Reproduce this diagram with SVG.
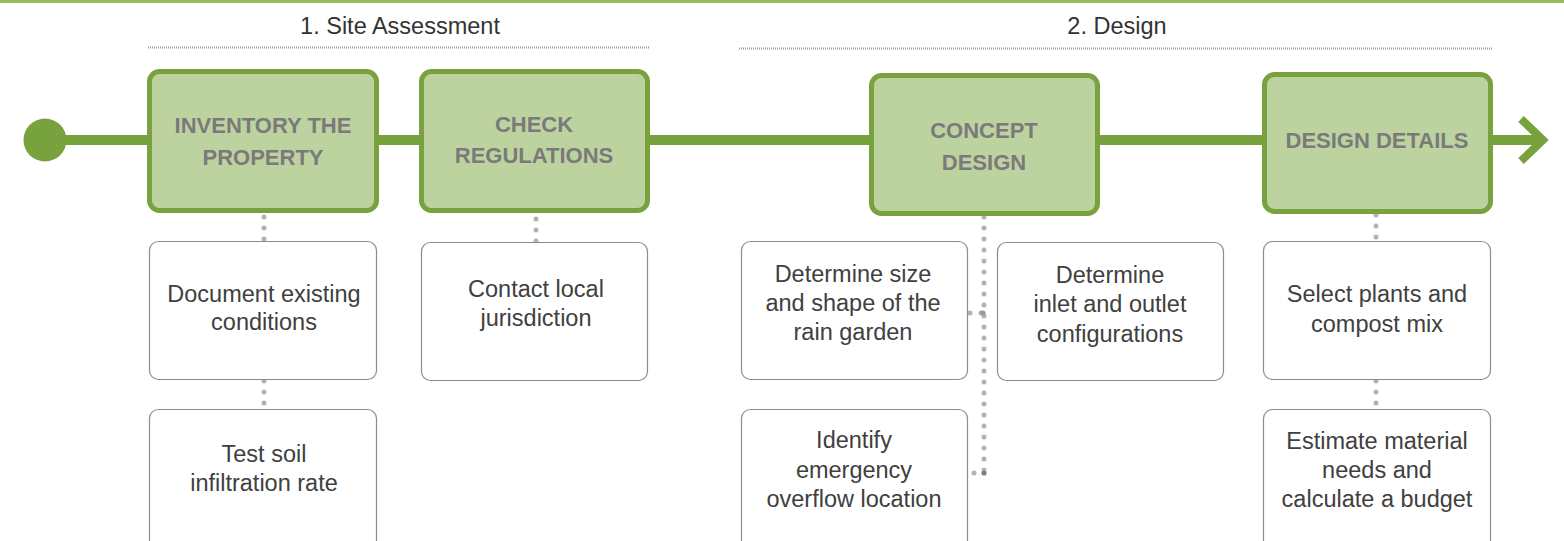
<svg xmlns="http://www.w3.org/2000/svg" width="1564" height="541" viewBox="0 0 1564 541">
  <style>
    .phase { font-family: "Liberation Sans", Arial, sans-serif; font-size: 23.5px; fill: #333333; text-anchor: middle; }
    .rule { stroke: #9a9a9a; stroke-width: 2; stroke-dasharray: 1 1; fill: none; }
    .step rect { fill: #BCD3A0; stroke: #78A23E; stroke-width: 5; }
    .step text { font-family: "Liberation Sans", Arial, sans-serif; font-weight: bold; font-size: 22px; fill: #7A7A7A; text-anchor: middle; }
    .task rect { fill: #ffffff; stroke: #8c8c8c; stroke-width: 1.2; }
    .task text { font-family: "Liberation Sans", Arial, sans-serif; font-size: 23.5px; fill: #404040; text-anchor: middle; }
    .dots { stroke: #b3b3b3; stroke-width: 5; stroke-linecap: round; stroke-dasharray: 0 11; fill: none; }
  </style>

  <!-- top border -->
  <rect x="0" y="0" width="1564" height="3" fill="#9BBB59"/>

  <!-- phase headings -->
  <g id="phase-site">
    <text class="phase" x="400" y="34">1. Site Assessment</text>
    <line class="rule" x1="148" y1="47.5" x2="650" y2="47.5"/>
  </g>
  <g id="phase-design">
    <text class="phase" x="1117" y="34">2. Design</text>
    <line class="rule" x1="739" y1="48.5" x2="1492" y2="48.5"/>
  </g>

  <!-- connectors -->
  <g id="connectors">
    <line x1="45" y1="140" x2="1541" y2="140" stroke="#78A23E" stroke-width="10"/>
    <circle cx="45" cy="140" r="21.5" fill="#78A23E"/>
    <polyline points="1521,119 1543,140 1521,161" fill="none" stroke="#78A23E" stroke-width="8"/>

    <line class="dots" x1="264" y1="217" x2="264" y2="240"/>
    <line class="dots" x1="264" y1="381" x2="264" y2="404"/>
    <line class="dots" x1="536" y1="219" x2="536" y2="242"/>
    <line class="dots" x1="984" y1="217" x2="984" y2="474"/>
    <line class="dots" x1="970" y1="313" x2="992" y2="313" stroke-dasharray="0 7.3"/>
    <line class="dots" x1="974" y1="473" x2="984" y2="473" stroke-dasharray="0 10"/>
    <circle cx="984" cy="473" r="2.6" fill="#7f7f7f"/>
    <circle cx="983" cy="313" r="2.6" fill="#9a9a9a"/>
    <line class="dots" x1="1376" y1="215" x2="1376" y2="238"/>
    <line class="dots" x1="1376" y1="381" x2="1376" y2="404"/>
  </g>

  <!-- main steps -->
  <g id="inventory" class="step">
    <rect x="149.5" y="71.5" width="227" height="139" rx="10"/>
    <text x="263" y="133">INVENTORY THE</text>
    <text x="263" y="165">PROPERTY</text>
  </g>
  <g id="regulations" class="step">
    <rect x="421.5" y="71.5" width="226" height="139" rx="10"/>
    <text x="534" y="132">CHECK</text>
    <text x="534" y="163">REGULATIONS</text>
  </g>
  <g id="concept" class="step">
    <rect x="871.5" y="75.5" width="226" height="138" rx="10"/>
    <text x="984" y="138">CONCEPT</text>
    <text x="984" y="170">DESIGN</text>
  </g>
  <g id="details" class="step">
    <rect x="1264.5" y="74.5" width="226" height="137" rx="10"/>
    <text x="1377" y="148">DESIGN DETAILS</text>
  </g>

  <!-- tasks -->
  <g id="document" class="task">
    <rect x="149.5" y="241.5" width="227" height="138" rx="9"/>
    <text x="264" y="302">Document existing</text>
    <text x="264" y="330">conditions</text>
  </g>
  <g id="soil" class="task">
    <rect x="149.5" y="409.5" width="227" height="150" rx="9"/>
    <text x="264" y="462">Test soil</text>
    <text x="264" y="491">infiltration rate</text>
  </g>
  <g id="contact" class="task">
    <rect x="421.5" y="242.5" width="226" height="138" rx="9"/>
    <text x="536" y="297">Contact local</text>
    <text x="536" y="326">jurisdiction</text>
  </g>
  <g id="size" class="task">
    <rect x="741.5" y="241.5" width="226" height="138" rx="9"/>
    <text x="853" y="282">Determine size</text>
    <text x="853" y="311">and shape of the</text>
    <text x="853" y="340">rain garden</text>
  </g>
  <g id="inlet" class="task">
    <rect x="997.5" y="242.5" width="226" height="138" rx="9"/>
    <text x="1110" y="283">Determine</text>
    <text x="1110" y="312">inlet and outlet</text>
    <text x="1110" y="342">configurations</text>
  </g>
  <g id="overflow" class="task">
    <rect x="741.5" y="409.5" width="226" height="150" rx="9"/>
    <text x="854" y="448">Identify</text>
    <text x="854" y="478">emergency</text>
    <text x="854" y="507">overflow location</text>
  </g>
  <g id="plants" class="task">
    <rect x="1263.5" y="241.5" width="227" height="138" rx="9"/>
    <text x="1377" y="302">Select plants and</text>
    <text x="1377" y="332">compost mix</text>
  </g>
  <g id="budget" class="task">
    <rect x="1263.5" y="409.5" width="227" height="150" rx="9"/>
    <text x="1377" y="449">Estimate material</text>
    <text x="1377" y="478">needs and</text>
    <text x="1377" y="507">calculate a budget</text>
  </g>
</svg>
